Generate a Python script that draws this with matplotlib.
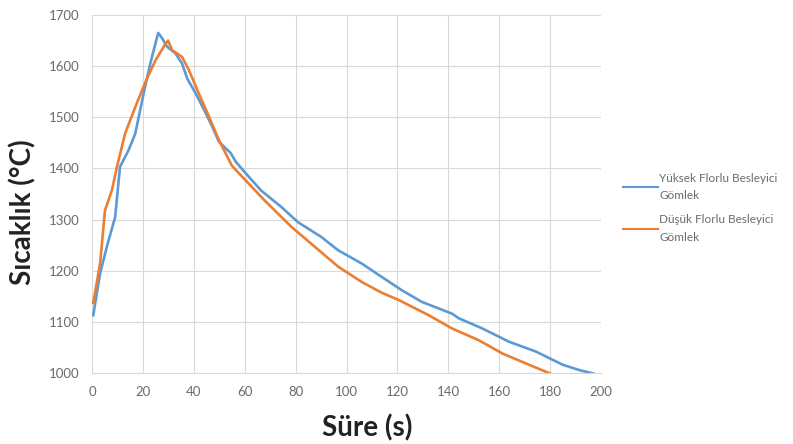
import matplotlib
matplotlib.use("Agg")
import matplotlib.pyplot as plt

# Data
t_high = [0.5, 3.2, 6, 9.1, 11, 14.3, 17, 20.3, 22.9, 26, 27.5, 29.5, 32.8, 35.4, 37.4, 40.7,
          44, 47.3, 49.9, 54.5, 56.5, 60.5, 66.4, 74.3, 80.9, 90.1, 96.7, 106, 113.8, 121.7,
          129.6, 141.5, 144.1, 153.4, 163.9, 174.4, 185, 192, 197]
T_high = [1113, 1195, 1250, 1305, 1403, 1435, 1468, 1547, 1605, 1665, 1655, 1638, 1625, 1605,
          1576, 1547, 1515, 1481, 1452, 1430, 1413, 1390, 1357, 1325, 1295, 1266, 1240, 1214,
          1188, 1162, 1139, 1116, 1107, 1087, 1061, 1042, 1016, 1005, 999]

t_low = [0.5, 3.2, 5.1, 7.8, 9.8, 13, 17, 21, 24.9, 28.9, 29.9, 31.5, 35.4, 38.1, 41.4, 46,
         49.9, 55, 60.5, 67.7, 78.3, 87.5, 96.7, 106, 113.8, 120.4, 132.3, 141.5, 152, 161.3,
         171.8, 180]
T_low = [1137, 1215, 1318, 1357, 1403, 1468, 1520, 1569, 1611, 1644, 1650, 1631, 1618, 1592,
         1553, 1501, 1455, 1405, 1376, 1338, 1286, 1247, 1208, 1178, 1157, 1143, 1113, 1087,
         1064, 1038, 1016, 999]

labels = ["Yüksek Florlu Besleyici\nGömlek", "Düşük Florlu Besleyici\nGömlek"]
colors = ["#5B9BD5", "#ED7D31"]
x_ticks = list(range(0, 201, 20))
y_ticks = list(range(1000, 1701, 100))

plt.rcParams['font.family'] = ['Lato', 'DejaVu Sans']

fig = plt.figure(figsize=(7.93, 4.44), dpi=100)
ax = fig.add_axes([92/793, 1-373/444, (601-92)/793, (373-15)/444])

ax.plot(t_high, T_high, color=colors[0], lw=1.9, label=labels[0])
ax.plot(t_low, T_low, color=colors[1], lw=1.9, label=labels[1])

ax.set_xlim(0, 200)
ax.set_ylim(1000, 1700)
ax.set_xticks(x_ticks)
ax.set_yticks(y_ticks)
ax.grid(True, color="#D9D9D9", lw=0.8)
ax.set_axisbelow(True)
for s in ["top", "right", "left"]:
    ax.spines[s].set_visible(False)
ax.spines["bottom"].set_color("#D9D9D9")
ax.tick_params(length=0, labelsize=9.5, labelcolor="#6b6b6b", pad=9)

ax.set_xlabel("Süre (s)", fontsize=20, fontweight="bold", color="#222222")
ax.xaxis.set_label_coords(0.54, -0.115)
ax.set_ylabel("Sıcaklık (°C)", fontsize=20, fontweight="bold", color="#222222")
ax.yaxis.set_label_coords(-0.11, 0.45)

leg = fig.legend(loc="upper left", bbox_to_anchor=(612/793, 1-162/444), frameon=False,
                 fontsize=8.5, handlelength=3.0, handletextpad=0.1, labelspacing=1.1)
for txt in leg.get_texts():
    txt.set_color("#6b6b6b")
    txt.set_linespacing(1.75)
for line in leg.get_lines():
    line.set_linewidth(1.5)

fig.savefig("out.png", dpi=100)
